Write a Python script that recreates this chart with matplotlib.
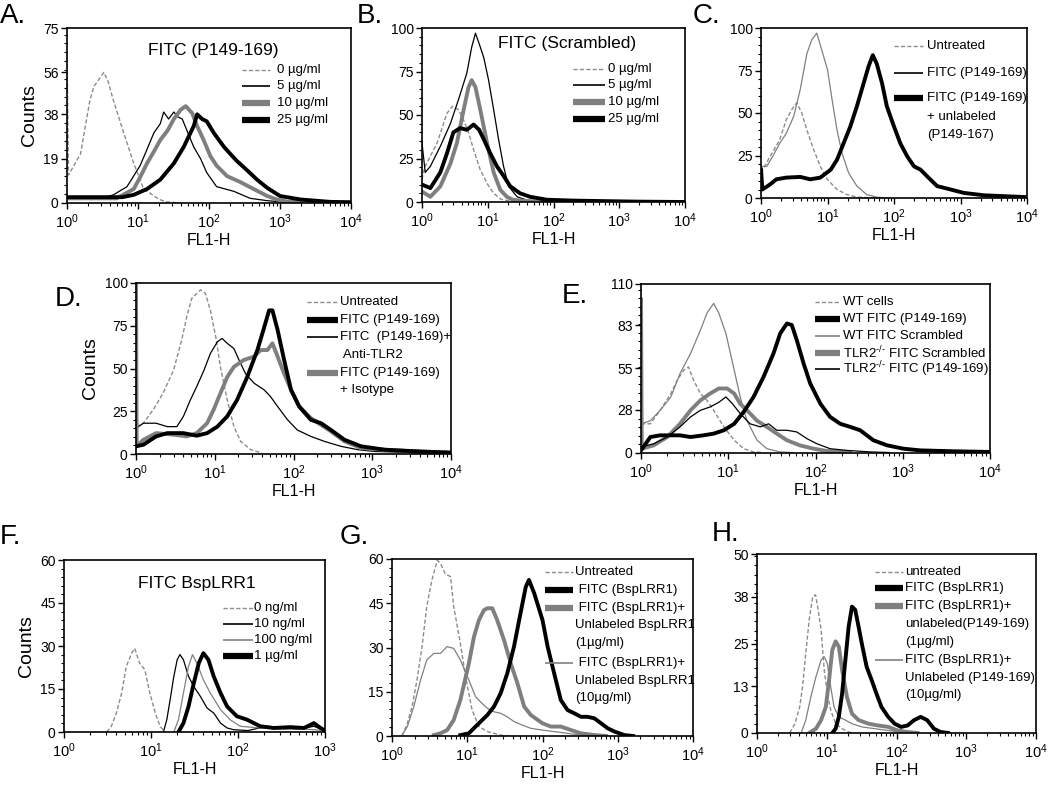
import matplotlib
matplotlib.use('Agg')
import matplotlib.pyplot as plt
from matplotlib.ticker import AutoMinorLocator, LogLocator, NullFormatter

plt.rcParams['font.family'] = ['Liberation Sans', 'DejaVu Sans']
plt.rcParams['mathtext.default'] = 'regular'

# ---- data (FL1-H value, counts) ----
# A. FITC (P149-169)
A0_X = [1, 1.05, 1.55, 2.1, 2.4, 3.3, 3.8, 4.5, 6.3, 8.7, 12, 20, 25, 40]
A0_Y = [65, 12, 21, 44, 50, 56, 52, 44, 30, 17, 6, 1.5, 0.5, 0]
A5_X = [1, 3, 4.5, 7, 10.7, 13.4, 16.7, 20.6, 23, 27, 32, 36, 42, 49, 61, 76, 93, 128, 224, 380, 660, 1000, 2000, 10000]
A5_Y = [2, 2, 3.5, 7, 16, 23, 30, 34, 39, 36, 39, 37, 36, 31, 24, 19, 13, 7, 5, 2, 1, 0.5, 0.3, 0.2]
A10_X = [1, 5, 8.7, 10.7, 13.4, 16.7, 20.6, 26, 32, 40, 47, 58, 68, 84, 105, 128, 180, 275, 425, 660, 900, 1300, 3000, 10000]
A10_Y = [2, 2, 6, 11, 17, 22, 27, 31, 36, 40, 41.5, 38.5, 33, 27, 20, 16, 11.5, 9, 6, 3, 1.5, 0.5, 0.3, 0.2]
A25_X = [1, 6, 8.7, 13.4, 20.6, 32, 44, 61, 68, 80, 93, 117, 163, 200, 247, 345, 475, 660, 1000, 1950, 5000, 10000]
A25_Y = [2.5, 2.5, 3.5, 6, 10, 17, 24, 33, 38, 36, 35, 30, 24, 21, 18, 14, 10, 6.5, 3, 1.5, 0.5, 0.3]

# B. FITC (Scrambled)
B0_X = [1, 1.1, 1.7, 2.4, 2.9, 3.6, 4.3, 5.1, 6.1, 7.7, 10, 12.3, 16, 22, 40]
B0_Y = [13, 20, 34, 51, 55, 53, 47, 40, 30, 18.5, 10, 5, 1.5, 0.5, 0]
B5_X = [1, 1.12, 1.34, 1.9, 2.7, 3.6, 4.8, 5.7, 6.5, 7.4, 8.7, 10.3, 12.3, 14.6, 17.4, 20.7, 28, 40, 60, 100]
B5_Y = [34, 17, 20.5, 32, 45, 59, 74, 89, 97, 91, 83, 70, 53, 36, 20.5, 9, 3, 1, 0.5, 0]
B10_X = [1, 1.34, 1.9, 2.7, 3.4, 4.3, 5.1, 5.7, 6.5, 7.7, 10, 12.3, 15.5, 19.5, 24, 40, 80]
B10_Y = [6, 3, 9, 22, 34, 53, 66, 70, 66, 53, 32, 17, 7, 3, 1.3, 0.5, 0]
B25_X = [1, 1.34, 1.9, 2.4, 3, 3.8, 4.8, 6.1, 7.4, 8.7, 10.9, 13.8, 17.4, 22, 31, 44, 79, 200, 600, 2000, 10000]
B25_Y = [10, 8, 17, 28, 40, 42.5, 41.5, 44.5, 41.5, 36, 28, 20.5, 15, 9, 5, 3, 1.3, 0.8, 0.5, 0.2, 0]

# C. competition with unlabeled peptide
C_UNT_X = [1, 1.37, 1.9, 2.4, 2.9, 3.45, 4.1, 4.9, 6.2, 7.8, 10, 13.9, 19.6, 28, 50]
C_UNT_Y = [14.7, 24.5, 34, 46, 52, 56, 50, 40, 28.4, 18.6, 10.8, 5, 2, 0.5, 0]
C_FITC_X = [1, 1.22, 1.5, 1.9, 2.4, 3.1, 3.9, 4.9, 5.8, 6.9, 8.2, 10, 11.7, 13.9, 16.5, 20.8, 27.7, 39, 55, 80]
C_FITC_Y = [18.6, 18.6, 24.5, 32, 38, 48, 64, 85, 93, 97, 87, 75.5, 58, 40, 26.5, 14.7, 7, 2, 0.5, 0]
C_COMP_X = [1, 1.05, 1.37, 1.7, 2.4, 3.9, 5.5, 7.8, 11.2, 13.9, 17.4, 22, 27.7, 35, 41.5, 48, 55, 66, 78, 100,
            125, 158, 200, 250, 316, 445, 710, 1120, 2240, 5000, 10000]
C_COMP_Y = [16.7, 5, 8, 11, 12, 12.4, 11, 12, 16.7, 22.5, 32, 42, 54, 67.6, 77.5, 84, 79, 67.6, 54, 42,
            32, 24.5, 18.6, 16.7, 12.7, 7, 5, 3, 1.6, 1, 0.5]

# D. anti-TLR2 blocking
D_UNT_X = [1, 1.24, 1.66, 2.2, 3, 3.8, 4.4, 5.1, 6.6, 7.6, 8.8, 10.3, 11.8, 14.4, 17.5, 21.3, 28.7, 40]
D_UNT_Y = [16, 18, 26, 35.5, 49, 66.6, 80, 91, 96, 94, 84, 68.5, 51, 31.6, 16, 7.4, 2.5, 0.5]
D_FITC_X = [1, 1.24, 1.8, 2.5, 4, 5.9, 8, 10.8, 14.4, 19.2, 25.8, 34.8, 42.4, 49, 54, 62.8, 76, 93, 118,
            166, 224, 300, 445, 720, 1440, 3800, 10000]
D_FITC_Y = [4.5, 5.4, 10.3, 12.2, 12.2, 10.7, 12.2, 16, 22, 31.6, 45, 60.8, 74, 84, 84, 72.6, 55, 37.5, 27.8,
            20, 18, 14, 8.3, 4.5, 2.5, 1.5, 0.8]
D_ANTI_X = [1, 1.24, 1.8, 2.5, 3.3, 4, 4.9, 5.9, 7.3, 8.8, 10.8, 12.4, 14.4, 17.5, 20.3, 24.6, 31.6, 42.4, 51,
            62.8, 84, 112, 166, 246, 400, 660, 1070, 2500, 10000]
D_ANTI_Y = [15, 18, 18, 16, 16, 22, 31.6, 39.4, 49, 58.8, 65.6, 67.6, 64.7, 61.7, 55, 47, 41.4, 37.5, 33.6,
            27.8, 20, 14, 10.3, 7.4, 4.5, 2.5, 1.5, 1, 0.5]
D_ISO_X = [1, 1.02, 1.24, 1.8, 3, 4.4, 5.9, 8, 9.7, 11.8, 14.4, 17.5, 23.5, 31.6, 38.3, 46.6, 54, 62.8, 76,
           93, 118, 166, 224, 300, 445, 720, 1440, 3800, 10000]
D_ISO_Y = [100, 4.5, 8.3, 12.2, 11.3, 10.3, 12.2, 18, 26, 35.5, 45, 51, 55, 57, 60.8, 60.8, 64.7, 57, 47,
           37.5, 27.8, 21, 17, 13.2, 7.4, 3.5, 2.5, 1.5, 0.8]

# E. WT vs TLR2-/- cells
E_WT_X = [1, 1.28, 1.66, 2.2, 2.6, 3.1, 3.5, 4, 4.8, 5.7, 6.8, 8.9, 11.7, 15, 19.5, 25]
E_WT_Y = [19, 19, 27.8, 38.7, 47.4, 54, 56, 47.4, 38.7, 34.3, 27.8, 17, 8.3, 2.8, 0.7, 0.3]
E_WTP_X = [1, 1.28, 1.66, 2.2, 2.8, 3.7, 5.2, 6.8, 8.9, 11.7, 15, 19.5, 25.4, 33, 39.4, 47, 53.5, 61, 73,
           87, 114, 147, 192, 250, 325, 460, 660, 1020, 1590, 4000, 10000]
E_WTP_Y = [1.7, 10.4, 11.5, 11.5, 11.5, 10.4, 11.5, 12.6, 14.8, 19, 26.7, 36.5, 49.6, 64.8, 77.8, 84.3, 83.3,
           73.5, 58.3, 45.2, 32, 23.5, 19, 17, 14.8, 8.3, 5, 2.8, 1.7, 1.1, 0.7]
E_WTS_X = [1, 1.28, 1.66, 2.2, 2.8, 3.7, 4.8, 5.7, 6.8, 7.8, 9.4, 11.7, 13.7, 16.4, 21.4, 27.7, 39.4, 55]
E_WTS_Y = [19, 21, 27.8, 36.5, 51.7, 64.8, 80, 91, 97.4, 91, 77.8, 54, 36.5, 21, 8.3, 2.8, 0.7, 0.3]
E_KOS_X = [1, 1.02, 1.4, 2, 2.8, 3.7, 4.8, 6.2, 7.8, 9.7, 11.7, 13.7, 16.4, 21.4, 27.7, 36, 47, 66, 95, 135, 250]
E_KOS_Y = [100, 2.8, 5, 10.4, 19, 27.8, 34.3, 38.7, 42, 42, 38.7, 32, 27.8, 21, 17, 12.6, 8.3, 5, 2.8, 1.3, 0.5]
E_KOP_X = [1, 1.4, 2, 2.8, 3.7, 4.8, 6.2, 7.8, 9.4, 11.2, 13.7, 17.8, 23.3, 29, 36, 47, 61, 80, 104, 147,
           228, 425, 700]
E_KOP_Y = [4, 6, 10.4, 17, 23.5, 27.8, 30, 33, 36.5, 32, 25.7, 19, 17, 19, 14.8, 14.8, 13.7, 9.3, 6, 2.8,
           1.7, 0.7, 0.3]

# F. FITC BspLRR1 dose
F0_X = [3.1, 3.5, 4, 4.6, 5.2, 6, 6.5, 7.4, 8.5, 9.7, 11.2, 12.7, 14.5]
F0_Y = [0, 2, 6.6, 13.6, 22.9, 27.5, 29.2, 24, 21.7, 13.6, 6.6, 2, 0]
F10_X = [13.9, 15.2, 16.6, 18.3, 20, 21.5, 23.6, 27, 31, 37, 44, 52.6, 63, 75, 89, 130, 215, 330, 500,
         745, 900, 1000]
F10_Y = [0, 4.3, 11.3, 19.4, 25.2, 27, 25.2, 19.4, 15.9, 12.4, 8.4, 6.6, 3.1, 1.4, 0.8, 0.5, 2, 1.5, 1,
         2, 1, 0.5]
F100_X = [18.3, 20.7, 23.6, 27, 30, 33.7, 40, 48, 63, 81, 106, 180, 337, 600, 1000]
F100_Y = [0, 4.3, 13.6, 22.9, 27, 24, 18.2, 13.6, 7.8, 4.3, 2, 1.4, 1, 1, 0.5]
F1U_X = [20.7, 23.6, 27, 31, 35.4, 40, 45.7, 52.6, 63, 75, 97, 127, 180, 257, 400, 575, 745, 890, 1000]
F1U_Y = [0, 3.1, 8.9, 17, 24, 27.5, 25.2, 19.4, 13.6, 8.9, 5.5, 4.3, 2, 1.4, 1.7, 1.4, 3.1, 1.4, 0.5]

# G. competition with unlabeled BspLRR1
G_UNT_X = [1.36, 1.6, 1.85, 2.15, 2.5, 2.9, 3.4, 4, 4.4, 5.1, 6, 6.6, 8.1, 9.5, 11.6, 14.3, 18.5, 27.8, 35]
G_UNT_Y = [0, 4.3, 10, 19, 30, 44, 53, 59.6, 58.5, 55, 54, 44, 31.4, 20, 8.8, 3.2, 1.5, 0.3, 0]
G_C10_X = [1.36, 1.6, 1.95, 2.4, 2.9, 3.6, 4.4, 5.4, 6.6, 8.1, 10.5, 12.9, 15.8, 18.5, 22.7, 27.8, 34, 41.8,
           54, 70, 100, 143, 215, 324, 500]
G_C10_Y = [0.3, 3.2, 10, 19, 25.8, 28, 28, 30.3, 29.7, 25.8, 19, 13.3, 11, 9.4, 8.2, 7.7, 6.5, 4.9,
           3.7, 2.6, 2, 1.5, 0.9, 0.3, 0]
G_C1_X = [3.6, 4.4, 5.4, 6.6, 8.1, 10.5, 12.3, 14.3, 16.7, 18.5, 21.5, 25, 30.8, 37.9, 46.4, 57, 70, 100,
          129, 175, 240, 324, 500, 700]
G_C1_Y = [0.3, 0.9, 2, 5.4, 12.2, 24.6, 33.7, 39.3, 42.7, 43.3, 43.3, 39.3, 32.5, 24.6, 17.9, 10, 7.1, 4.3,
          3.2, 3.2, 2, 0.9, 0.3, 0]
G_FITC_X = [8.1, 10.5, 12.9, 15.8, 18.5, 22.7, 27.8, 34, 41.8, 51, 60, 66, 77.6, 100, 117, 143, 175, 215,
            264, 324, 398, 488, 600, 737, 905, 1230, 1600]
G_FITC_Y = [0.3, 0.9, 3.2, 5.4, 7.1, 10, 14.5, 21.2, 30.3, 41.6, 50.6, 52.9, 48.4, 39.3, 30.3, 21.2, 12.2,
            8.8, 7.7, 6.5, 6.5, 6, 4.3, 2.6, 1.5, 0.3, 0]

# H. competition with unlabeled P149-169
H_UNT_X = [2.95, 3.5, 4.1, 4.5, 5, 5.6, 6.3, 6.9, 7.4, 8.3, 9.2, 10.2, 11.4, 13.4, 16.6, 20.6, 25]
H_UNT_Y = [0, 2.6, 7.3, 12.9, 22.2, 31.6, 38.1, 38.6, 35.3, 28.8, 17.6, 11, 6.4, 2.6, 1.2, 0.3, 0]
H_C10_X = [4.3, 5, 5.9, 7, 8.3, 9.2, 10.2, 11.4, 12.7, 14.9, 18.5, 23, 31.8, 49, 76, 110, 160]
H_C10_Y = [0, 3.6, 10, 15.7, 20.4, 21.3, 19.4, 12.9, 7.3, 4.5, 3.6, 2.6, 1.7, 1.2, 0.7, 0.3, 0]
H_C1_X = [5.6, 7, 8.3, 9.7, 10.8, 12, 13.4, 14.9, 16.6, 19.5, 23, 28.6, 39.5, 54.6, 76, 104, 140, 200]
H_C1_Y = [0, 1.2, 3.6, 7.3, 14.8, 23.2, 25.6, 24.1, 17.6, 10, 5.4, 3.6, 2.6, 2.1, 1.7, 0.7, 0.3, 0]
H_FITC_X = [12, 13.4, 14.9, 16.6, 18.5, 20.6, 23, 25.6, 28.6, 31.8, 37.3, 44, 51.6, 60.8, 76, 94, 116, 144,
            179, 222, 275, 344, 426, 550]
H_FITC_Y = [0, 1.2, 4.5, 11, 20.4, 29.7, 35.3, 34.4, 29.7, 25, 18.5, 14.8, 11, 7.3, 4.5, 2.6, 1.7, 2.1,
            3.6, 4.5, 3.6, 1.2, 0.3, 0]

# ---- line styles ----
STYLES = {
    'dash': dict(color='#8c8c8c', lw=1.0, ls=(0, (3, 1.6))),
    'thin': dict(color='black', lw=0.9, ls='-'),
    'tgray': dict(color='#808080', lw=0.9, ls='-'),
    'gray': dict(color='#7f7f7f', lw=2.8, ls='-'),
    'bold': dict(color='black', lw=2.8, ls='-'),
}
KEY_LW = {'dash': 1.0, 'thin': 1.2, 'tgray': 1.2, 'gray': 4.5, 'bold': 4.5}
KO = 'TLR2$^{\u2010/\u2010}$'

W, H = 1050, 802
fig = plt.figure(figsize=(W / 100, H / 100), dpi=100)


def new_ax(l, r, t, b):
    return fig.add_axes([l / W, 1 - b / H, (r - l) / W, (b - t) / H])


def setup(ax, xmax, yticks, counts=False):
    ax.set_xscale('log')
    ax.set_xlim(1, xmax)
    ax.set_ylim(0, yticks[-1])
    ax.set_yticks(yticks)
    ax.yaxis.set_minor_locator(AutoMinorLocator(5))
    ax.xaxis.set_major_locator(LogLocator(base=10, numticks=10))
    ax.xaxis.set_minor_locator(LogLocator(base=10, subs=range(2, 10), numticks=10))
    ax.xaxis.set_minor_formatter(NullFormatter())
    ax.tick_params(which='major', direction='out', length=4, width=1)
    ax.tick_params(which='minor', direction='out', length=2.3, width=0.8)
    ax.tick_params(axis='x', labelsize=10.5, pad=3)
    ax.tick_params(axis='y', labelsize=10, pad=2)
    for s in ax.spines.values():
        s.set_linewidth(1.2)
    ax.set_xlabel('FL1-H', fontsize=11.5, labelpad=1)
    if counts:
        ax.set_ylabel('Counts', fontsize=14, labelpad=4)


def draw(ax, curves):
    for style, xs, ys in curves:
        st = STYLES[style]
        ax.plot(xs, ys, color=st['color'], lw=st['lw'], ls=st['ls'], solid_joinstyle='round')


def key(ax, entries, hx, tx, dy, fs):
    for style, label, y in entries:
        st = STYLES[style]
        ax.plot(hx, [y, y], transform=ax.transAxes, color=st['color'], ls=st['ls'],
                lw=KEY_LW[style], solid_capstyle='butt', clip_on=False)
        for i, line in enumerate(label.split('\n')):
            ax.text(tx, y - i * dy, line, transform=ax.transAxes, fontsize=fs,
                    va='center', ha='left')


# A
ax = new_ax(67, 351, 28, 203)
draw(ax, [('dash', A0_X, A0_Y), ('thin', A5_X, A5_Y), ('gray', A10_X, A10_Y), ('bold', A25_X, A25_Y)])
setup(ax, 1e4, [0, 19, 38, 56, 75], counts=True)
ax.text(0.514, 0.874, 'FITC (P149-169)', transform=ax.transAxes, ha='center', va='center', fontsize=12.5)
key(ax, [('dash', '0 µg/ml', 0.76), ('thin', '5 µg/ml', 0.669),
         ('gray', '10 µg/ml', 0.571), ('bold', '25 µg/ml', 0.474)],
    (0.616, 0.715), 0.74, 0.1, 9.5)

# B
ax = new_ax(422, 685, 28, 202)
draw(ax, [('dash', B0_X, B0_Y), ('thin', B5_X, B5_Y), ('gray', B10_X, B10_Y), ('bold', B25_X, B25_Y)])
setup(ax, 1e4, [0, 25, 50, 75, 100])
ax.text(0.55, 0.91, 'FITC (Scrambled)', transform=ax.transAxes, ha='center', va='center', fontsize=12.5)
key(ax, [('dash', '0 µg/ml', 0.764), ('thin', '5 µg/ml', 0.672),
         ('gray', '10 µg/ml', 0.575), ('bold', '25 µg/ml', 0.477)],
    (0.574, 0.696), 0.707, 0.1, 9.5)

# C
ax = new_ax(761, 1027, 28, 198)
draw(ax, [('dash', C_UNT_X, C_UNT_Y), ('tgray', C_FITC_X, C_FITC_Y), ('bold', C_COMP_X, C_COMP_Y)])
setup(ax, 1e4, [0, 25, 50, 75, 100])
key(ax, [('dash', 'Untreated', 0.894), ('thin', 'FITC (P149-169)', 0.735),
         ('bold', 'FITC (P149-169)\n+ unlabeled\n(P149-167)', 0.588)],
    (0.5, 0.609), 0.624, 0.109, 9.5)

# D
ax = new_ax(136, 451, 283, 454)
draw(ax, [('dash', D_UNT_X, D_UNT_Y), ('thin', D_ANTI_X, D_ANTI_Y),
          ('gray', D_ISO_X, D_ISO_Y), ('bold', D_FITC_X, D_FITC_Y)])
setup(ax, 1e4, [0, 25, 50, 75, 100], counts=True)
key(ax, [('dash', 'Untreated', 0.89), ('bold', 'FITC (P149-169)', 0.784),
         ('thin', 'FITC  (P149-169)+\n Anti-TLR2', 0.682),
         ('gray', 'FITC (P149-169)\n+ Isotype', 0.475)],
    (0.543, 0.641), 0.648, 0.101, 9.5)

# E
ax = new_ax(641, 990, 284, 453)
draw(ax, [('dash', E_WT_X, E_WT_Y), ('tgray', E_WTS_X, E_WTS_Y), ('gray', E_KOS_X, E_KOS_Y),
          ('thin', E_KOP_X, E_KOP_Y), ('bold', E_WTP_X, E_WTP_Y)])
setup(ax, 1e4, [0, 28, 55, 83, 110])
key(ax, [('dash', 'WT cells', 0.895), ('bold', 'WT FITC (P149-169)', 0.791),
         ('tgray', 'WT FITC Scrambled', 0.692),
         ('gray', KO + ' FITC Scrambled', 0.594),
         ('thin', KO + ' FITC (P149-169)', 0.495)],
    (0.4986, 0.57), 0.579, 0.1, 9.5)

# F
ax = new_ax(64, 325, 560, 732)
draw(ax, [('dash', F0_X, F0_Y), ('thin', F10_X, F10_Y), ('tgray', F100_X, F100_Y), ('bold', F1U_X, F1U_Y)])
setup(ax, 1e3, [0, 15, 30, 45, 60], counts=True)
ax.text(0.51, 0.866, 'FITC BspLRR1', transform=ax.transAxes, ha='center', va='center', fontsize=12.5)
key(ax, [('dash', '0 ng/ml', 0.719), ('thin', '10 ng/ml', 0.628),
         ('tgray', '100 ng/ml', 0.535), ('bold', '1 µg/ml', 0.442)],
    (0.609, 0.724), 0.728, 0.1, 9.5)

# G
ax = new_ax(392, 693, 559, 736)
draw(ax, [('dash', G_UNT_X, G_UNT_Y), ('tgray', G_C10_X, G_C10_Y),
          ('gray', G_C1_X, G_C1_Y), ('bold', G_FITC_X, G_FITC_Y)])
setup(ax, 1e4, [0, 15, 30, 45, 60])
key(ax, [('dash', 'Untreated', 0.928), ('bold', ' FITC (BspLRR1)', 0.825),
         ('gray', ' FITC (BspLRR1)+\nUnlabeled BspLRR1\n(1µg/ml)', 0.722),
         ('tgray', ' FITC (BspLRR1)+\nUnlabeled BspLRR1\n(10µg/ml)', 0.41)],
    (0.508, 0.601), 0.608, 0.097, 9.5)

# H
ax = new_ax(757, 1036, 554, 733)
draw(ax, [('dash', H_UNT_X, H_UNT_Y), ('tgray', H_C10_X, H_C10_Y),
          ('gray', H_C1_X, H_C1_Y), ('bold', H_FITC_X, H_FITC_Y)])
setup(ax, 1e4, [0, 13, 25, 38, 50])
key(ax, [('dash', 'untreated', 0.901), ('bold', 'FITC (BspLRR1)', 0.808),
         ('gray', 'FITC (BspLRR1)+\nunlabeled(P149-169)\n(1µg/ml)', 0.709),
         ('tgray', 'FITC (BspLRR1)+\nUnlabeled (P149-169)\n(10µg/ml)', 0.408)],
    (0.423, 0.523), 0.53, 0.099, 9.5)

# panel letters
for letter, px, py in [('A.', 0, 3), ('B.', 357, 3), ('C.', 693, 3), ('D.', 55, 286),
                       ('E.', 562, 283), ('F.', 0, 524), ('G.', 340, 524), ('H.', 712, 521)]:
    fig.text(px / W, 1 - py / H, letter, fontsize=20, va='top', ha='left')

fig.savefig('out.png', dpi=100)
